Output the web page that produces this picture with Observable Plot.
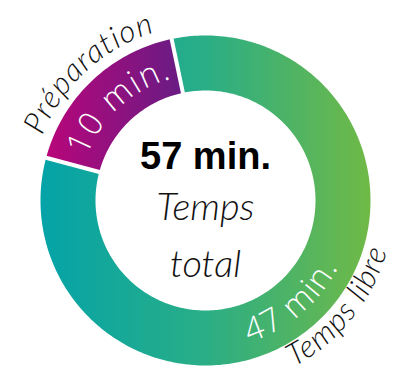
<!DOCTYPE html>
<html>
<head>
<meta charset="utf-8">
<script src="https://cdn.jsdelivr.net/npm/d3@7"></script>
<script src="https://cdn.jsdelivr.net/npm/@observablehq/plot@0.6"></script>
<style>
  html, body { margin: 0; padding: 0; background: #fff; }
  #chart { width: 395px; height: 375px; }
</style>
</head>
<body>
<div id="chart"></div>
<script>
// ---- data ----
const categories = ["Préparation", "Temps libre"];
const minutes = [10, 47];
const valueLabels = ["10 min.", "47 min."];
const totalLabel = "57 min.";
const centerLines = ["Temps", "total"];

// ---- geometry (in scale units = pixels around the donut centre) ----
const R_OUT = 165, R_IN = 110;
const START = 285; // degrees, clockwise from 12 o'clock
const total = d3.sum(minutes);
const rad = (deg) => deg * Math.PI / 180;
const px = (r, a) => r * Math.sin(rad(a));
const py = (r, a) => -r * Math.cos(rad(a));
const isBottom = (a) => { const m = ((a % 360) + 360) % 360; return m > 90 && m < 270; };

let acc = START;
const segments = categories.map((c, i) => {
  const a0 = acc, a1 = acc + minutes[i] / total * 360;
  acc = a1;
  return {category: c, minutes: minutes[i], label: valueLabels[i], a0, a1, mid: (a0 + a1) / 2, grad: "grad" + i};
});

function ringPoints(s) {
  const pts = [];
  const n = Math.max(2, Math.ceil(s.a1 - s.a0));
  for (let k = 0; k <= n; k++) { const a = s.a0 + (s.a1 - s.a0) * k / n; pts.push({x: px(R_OUT, a), y: py(R_OUT, a)}); }
  for (let k = n; k >= 0; k--) { const a = s.a0 + (s.a1 - s.a0) * k / n; pts.push({x: px(R_IN, a), y: py(R_IN, a)}); }
  pts.push(pts[0]);
  return pts;
}

const boundaries = segments.map(s => ({x1: px(R_IN - 2, s.a0), y1: py(R_IN - 2, s.a0), x2: px(R_OUT + 2, s.a0), y2: py(R_OUT + 2, s.a0)}));

// curved text renderer
let uid = 0;
function arcText(items) {
  return (index, {x, y}) => {
    const g = d3.create("svg:g");
    const defs = g.append("defs");
    for (const it of items) {
      const bottom = isBottom(it.angle);
      const half = it.half || 40;
      const a0 = bottom ? it.angle + half : it.angle - half;
      const a1 = bottom ? it.angle - half : it.angle + half;
      const r = it.r;
      const rp = Math.abs(x(r) - x(0));
      const id = "arcpath" + (uid++);
      defs.append("path").attr("id", id)
        .attr("d", `M${x(px(r, a0))},${y(py(r, a0))} A${rp},${rp} 0 0 ${bottom ? 0 : 1} ${x(px(r, a1))},${y(py(r, a1))}`);
      const t = g.append("text")
        .attr("font-family", it.family)
        .attr("font-size", it.size)
        .attr("font-weight", it.weight || 400)
        .attr("font-style", it.style || "normal")
        .attr("letter-spacing", it.spacing || 0)
        .attr("fill", it.fill);
      t.append("textPath").attr("href", "#" + id).attr("startOffset", "50%").attr("text-anchor", "middle").text(it.text);
    }
    return g.node();
  };
}

const hand = "Lato, 'Open Sans', sans-serif";
const labelsInside = segments.map(s => ({
  text: s.label, angle: s.mid + (isBottom(s.mid) ? 3 : 1), r: isBottom(s.mid) ? 149 : 126, half: 40,
  family: "'Open Sans', sans-serif", size: 33, weight: 300, fill: "#ffffff", spacing: 1.5
}));
const labelsOutside = segments.map(s => ({
  text: s.category, angle: s.mid + (isBottom(s.mid) ? -8 : 1),
  r: isBottom(s.mid) ? 189 : 175, half: 38,
  family: hand, size: 31, weight: 300, style: "italic", fill: "#111111", spacing: 1.2
}));

const chart = Plot.plot({
  width: 395,
  height: 375,
  margin: 0,
  x: {domain: [-205, 190], range: [0, 395], axis: null},
  y: {domain: [-200, 175], range: [0, 375], axis: null},
  style: {background: "#fff", overflow: "visible"},
  marks: [
    ...segments.map(s => Plot.line(ringPoints(s), {x: "x", y: "y", fill: `url(#${s.grad})`, stroke: "none", curve: "linear"})),
    Plot.link(boundaries, {x1: "x1", y1: "y1", x2: "x2", y2: "y2", stroke: "#ffffff", strokeWidth: 4}),
    arcText(labelsInside),
    arcText(labelsOutside),
    Plot.text([totalLabel], {x: () => 0, y: () => 0, text: d => d, dy: -44, fontSize: 38, fontWeight: "bold", fontFamily: "'Liberation Sans', Arial, sans-serif", fill: "#000"}),
    Plot.text(centerLines, {x: () => 0, y: () => 0, text: d => d, fontSize: 38, fontFamily: hand, fontStyle: "italic", fontWeight: 300, fill: "#111",
      render(index, scales, values, dims, ctx, next) {
        const g = next(index, scales, values, dims, ctx);
        d3.select(g).selectAll("text").attr("transform", (d, i, nodes) => {
          const tr = nodes[i].getAttribute("transform") || "";
          return tr + ` translate(0,${i === 0 ? 7 : 64})`;
        });
        return g;
      }})
  ]
});

const svg = d3.select(chart);
const defs = svg.insert("defs", ":first-child");
const g0 = defs.append("linearGradient").attr("id", "grad0").attr("x1", 0).attr("x2", 1).attr("y1", 0).attr("y2", 0);
g0.append("stop").attr("offset", 0).attr("stop-color", "#b8067a");
g0.append("stop").attr("offset", 1).attr("stop-color", "#681c84");
const g1 = defs.append("linearGradient").attr("id", "grad1").attr("x1", 0).attr("x2", 1).attr("y1", 0).attr("y2", 0);
g1.append("stop").attr("offset", 0).attr("stop-color", "#04a3a8");
g1.append("stop").attr("offset", 0.5).attr("stop-color", "#2aae86");
g1.append("stop").attr("offset", 1).attr("stop-color", "#70b946");

document.getElementById("chart").appendChild(chart);
</script>
</body>
</html>
